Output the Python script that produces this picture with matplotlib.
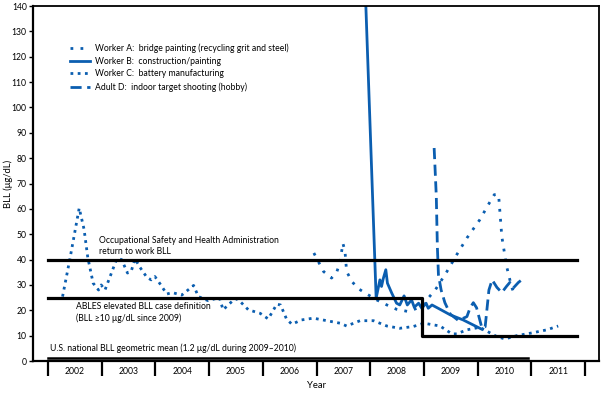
import matplotlib.pyplot as plt

plt.rcParams['font.family'] = ['Lato', 'DejaVu Sans']

# Worker A: bridge painting
a_year = [2006.95, 2007.13, 2007.28, 2007.38, 2007.44, 2007.49, 2007.53, 2007.56, 2007.66,
          2007.78, 2007.93, 2008.12, 2008.31, 2008.49, 2008.71, 2008.87, 2009.05, 2009.21,
          2009.42, 2009.61, 2009.80, 2010.04, 2010.20, 2010.31, 2010.39, 2010.45, 2010.54,
          2010.63, 2010.68]
a_bll = [42.6, 35.3, 32.7, 35.3, 39.2, 46.5, 43.2, 35.3, 31.3,
         28.5, 26.5, 24.1, 22.1, 20.4, 19.5, 20.8, 24.1, 28.0,
         35.0, 41.9, 48.5, 55.7, 61.7, 65.6, 65.6, 49.1, 37.3,
         29.4, 26.5]

# Worker B: construction/painting
b_year = [2007.91, 2008.11, 2008.18, 2008.21, 2008.24, 2008.29, 2008.32, 2008.40, 2008.49,
          2008.55, 2008.63, 2008.69, 2008.77, 2008.82, 2008.90, 2008.96, 2009.04, 2009.08,
          2009.15, 2009.30, 2009.49, 2009.73, 2010.08]
b_bll = [145, 24.8, 32.0, 29.4, 32.3, 36.0, 30.7, 26.8, 22.8,
         22.1, 25.7, 22.1, 24.1, 21.2, 22.8, 20.8, 22.8, 20.8,
         22.1, 20.4, 18.2, 16.2, 12.5]

# Worker C: battery manufacturing
c_year = [2002.27, 2002.41, 2002.58, 2002.67, 2002.74, 2002.84, 2002.94, 2002.99, 2003.06,
          2003.15, 2003.28, 2003.37, 2003.48, 2003.55, 2003.62, 2003.71, 2003.84, 2003.92,
          2003.99, 2004.10, 2004.21, 2004.31, 2004.49, 2004.71, 2004.80, 2004.98, 2005.19,
          2005.26, 2005.45, 2005.53, 2005.73, 2005.95, 2006.10, 2006.26, 2006.33, 2006.44,
          2006.54, 2006.72, 2006.94, 2007.19, 2007.44, 2007.56, 2007.81, 2008.06, 2008.31,
          2008.55, 2008.80, 2009.00, 2009.30, 2009.52, 2009.61, 2009.80, 2010.04, 2010.36,
          2010.51, 2010.73, 2011.04, 2011.29, 2011.50]
c_bll = [25.4, 40.6, 60.3, 52.0, 40.8, 30.7, 28.0, 30.0, 28.0,
         33.0, 40.3, 40.0, 34.7, 35.5, 40.3, 37.0, 33.0, 32.0,
         33.3, 30.0, 26.4, 27.0, 26.0, 29.8, 25.4, 23.8, 25.0,
         20.2, 24.0, 24.5, 20.2, 18.8, 16.6, 22.4, 22.1, 16.6,
         14.5, 16.2, 16.9, 15.9, 14.9, 13.8, 15.9, 15.9, 13.8,
         12.9, 13.6, 14.9, 13.8, 10.7, 10.7, 12.3, 13.3, 9.6,
         8.7, 10.0, 11.2, 12.3, 13.8]

# Adult D: indoor target shooting
d_year = [2009.19, 2009.23, 2009.25, 2009.27, 2009.32, 2009.39, 2009.49, 2009.64, 2009.80,
          2009.86, 2009.92, 2009.98, 2010.08, 2010.14, 2010.21, 2010.27, 2010.36, 2010.45,
          2010.54, 2010.60, 2010.66, 2010.76, 2010.88]
d_bll = [84, 65, 45, 34, 28, 23, 18.5, 16, 17.5,
         21, 23, 21, 13, 13.5, 28, 32, 29, 27,
         29.5, 31, 28.7, 31, 33]

# reference levels
osha_level = 40
ables_old, ables_new = 25, 10
us_mean = 1.2
years = list(range(2002, 2012))

blue = '#0b5eb0'
fig = plt.figure(figsize=(6.08, 3.93), dpi=100)
ax = fig.add_axes([0.0543, 0.0814, 0.9309, 0.9033])

ax.plot(a_year, a_bll, color=blue, lw=2.0, ls=(0, (1, 2.6)),
        label='Worker A:  bridge painting (recycling grit and steel)')
ax.plot(b_year, b_bll, color=blue, lw=2.0, ls='-',
        label='Worker B:  construction/painting')
ax.plot(c_year, c_bll, color=blue, lw=2.0, ls=(0, (1, 1.6)),
        label='Worker C:  battery manufacturing')
ax.plot(d_year, d_bll, color=blue, lw=2.0, ls=(0, (4, 2)),
        label='Adult D:  indoor target shooting (hobby)')

# reference lines
ax.plot([2002, 2011.85], [osha_level, osha_level], color='black', lw=2.3)
ax.plot([2002, 2008.97, 2008.97, 2011.85], [ables_old, ables_old, ables_new, ables_new],
        color='black', lw=2.3)
ax.plot([2002, 2010.93], [us_mean, us_mean], color='black', lw=1.8)

ax.text(2002.95, 41.6, 'Occupational Safety and Health Administration\nreturn to work BLL',
        fontsize=6.2, va='bottom', ha='left', linespacing=1.25)
ax.text(2002.52, 23.2, 'ABLES elevated BLL case definition\n(BLL \u226510 \u03bcg/dL since 2009)',
        fontsize=6.2, va='top', ha='left', linespacing=1.25)
ax.text(2002.04, 5.0, 'U.S. national BLL geometric mean (1.2 \u03bcg/dL during 2009\u20132010)',
        fontsize=6.2, va='center', ha='left')

ax.set_xlim(2001.72, 2012.26)
ax.set_ylim(0, 140)
ax.set_yticks(range(0, 141, 10))
ax.tick_params(axis='y', labelsize=6.2, length=3, width=1, pad=1.5)

# year separators as major ticks, labels on minor ticks
ax.set_xticks(range(2002, 2013))
ax.set_xticklabels([])
ax.tick_params(axis='x', which='major', length=11, width=1.6, direction='out')
ax.set_xticks([y + 0.5 for y in years], minor=True)
ax.set_xticklabels([str(y) for y in years], minor=True)
ax.tick_params(axis='x', which='minor', length=0, labelsize=6.2, pad=4)

for s in ax.spines.values():
    s.set_linewidth(1.3)
ax.spines['left'].set_linewidth(1.6)
ax.spines['bottom'].set_linewidth(1.6)

ax.set_xlabel('Year', fontsize=6.8, labelpad=0)
ax.set_ylabel('BLL (\u03bcg/dL)', fontsize=6.8)
ax.yaxis.set_label_coords(-0.036, 0.5)

ax.legend(loc='upper left', bbox_to_anchor=(0.06, 0.905), frameon=False, fontsize=6.2,
          handlelength=2.3, handletextpad=0.5, labelspacing=0.45, borderaxespad=0)

plt.savefig('out.png', dpi=100)
plt.close()
